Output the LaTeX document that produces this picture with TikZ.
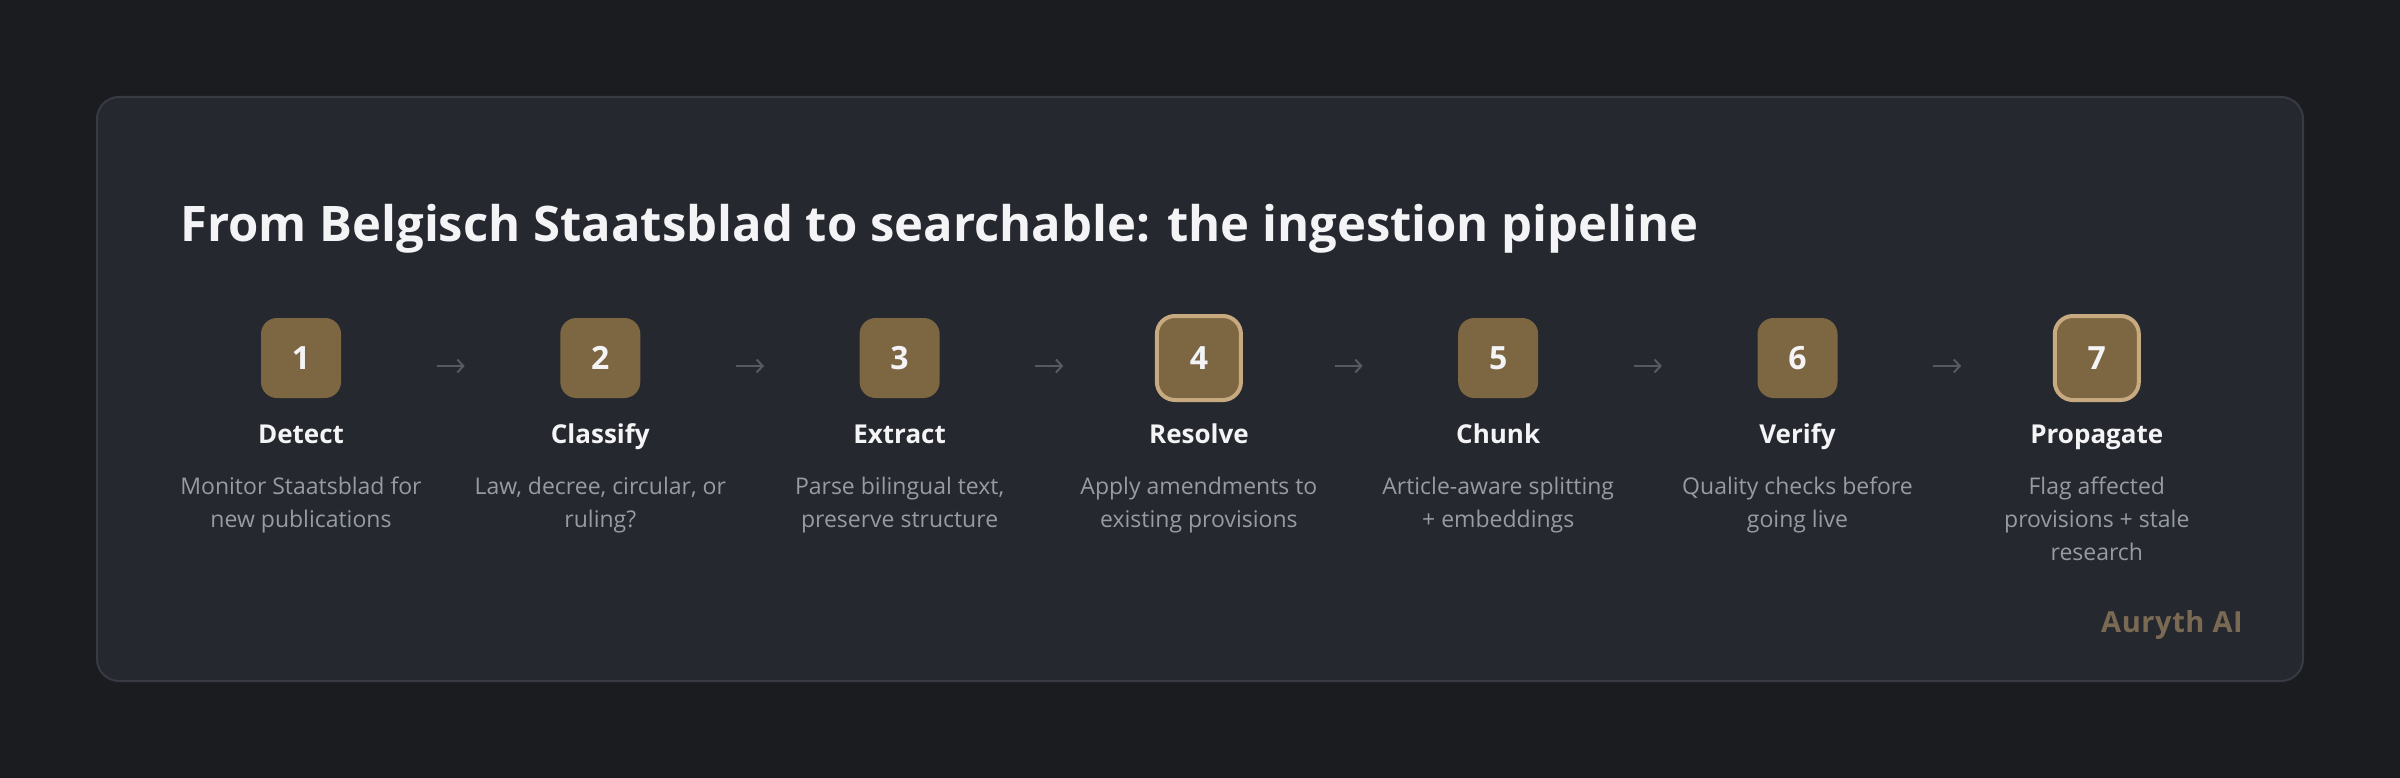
\documentclass[tikz,border=0pt]{standalone}
\usepackage{fontspec}
\setmainfont{Open Sans}
\newfontfamily\brandFont{Open Sans}[LetterSpace=2]
\usetikzlibrary{positioning,arrows.meta}
\tikzstyle{pipeline} = [x = 1pt, y = -1pt]
\definecolor{pageColor}{RGB}{27,28,32}
\definecolor{cardColor}{RGB}{37,40,46}
\definecolor{cardLine}{RGB}{56,59,66}
\definecolor{stepColor}{RGB}{125,102,66}
\definecolor{ringColor}{RGB}{200,170,128}
\definecolor{arrowColor}{RGB}{86,90,97}
\definecolor{headColor}{RGB}{244,244,246}
\definecolor{descColor}{RGB}{150,155,164}
\definecolor{brandColor}{RGB}{122,106,84}
\tikzstyle{cardStyle} = [fill=cardColor, draw=cardLine, line width=2pt, rounded corners=22pt]
\tikzstyle{stepBox} = [fill=stepColor, rounded corners=16pt, minimum size=80pt, inner sep=0pt, text=headColor, font=\fontsize{32}{38}\selectfont\bfseries]
\tikzstyle{stepBoxActive} = [stepBox, draw=ringColor, line width=4pt, minimum size=84pt, rounded corners=18pt]
\tikzstyle{stepName} = [anchor=base, inner sep=0pt, text=headColor, font=\fontsize{26}{30}\selectfont\bfseries]
\tikzstyle{stepText} = [anchor=north, inner sep=0pt, align=center, text=descColor, font=\fontsize{23}{33}\selectfont]
\tikzstyle{flowArrow} = [draw=arrowColor, line width=2pt, -{Straight Barb[length=6pt, width=13pt]}, shorten <=135.6pt, shorten >=135.6pt]
\newcommand{\stepGap}{299.3}
\newcommand{\pipeStep}[4]{
  \pgfmathsetmacro{\stepX}{301 + \stepGap * (#1 - 1)}
  \node [#2] (s#1) at (\stepX, 358) {#1};
  \node [stepName] (n#1) at (\stepX, 443) {#3};
  % strut fixes the first baseline at 494
  \node [stepText] (d#1) at (\stepX, 470.9) {\strut #4};
}

\begin{document}
\begin{tikzpicture}[pipeline]
  \fill [pageColor] (0,0) rectangle (2400,778);
  \useasboundingbox (0,0) rectangle (2400,778);
  \draw [cardStyle] (97,97) rectangle (2303,681);

  \node [anchor=base west, inner sep=0pt, text=headColor, font=\fontsize{49}{58}\selectfont\bfseries] (title) at (180,241) {From Belgisch Staatsblad to searchable: the ingestion pipeline};

  \pipeStep{1}{stepBox}{Detect}{Monitor Staatsblad for\\new publications}
  \pipeStep{2}{stepBox}{Classify}{Law, decree, circular, or\\ruling?}
  \pipeStep{3}{stepBox}{Extract}{Parse bilingual text,\\preserve structure}
  \pipeStep{4}{stepBoxActive}{Resolve}{Apply amendments to\\existing provisions}
  \pipeStep{5}{stepBox}{Chunk}{Article-aware splitting\\+ embeddings}
  \pipeStep{6}{stepBox}{Verify}{Quality checks before\\going live}
  \pipeStep{7}{stepBoxActive}{Propagate}{Flag affected\\provisions + stale\\research}

  \foreach \i in {1,...,6} {
    \pgfmathtruncatemacro{\j}{\i + 1}
    \draw [flowArrow] ([yshift=-8pt]s\i.center) -- ([yshift=-8pt]s\j.center);
  }

  \node [anchor=base east, inner sep=0pt, text=brandColor, font=\fontsize{29}{36}\selectfont\brandFont\bfseries] (brand) at (2243,632) {Auryth AI};
\end{tikzpicture}
\end{document}
